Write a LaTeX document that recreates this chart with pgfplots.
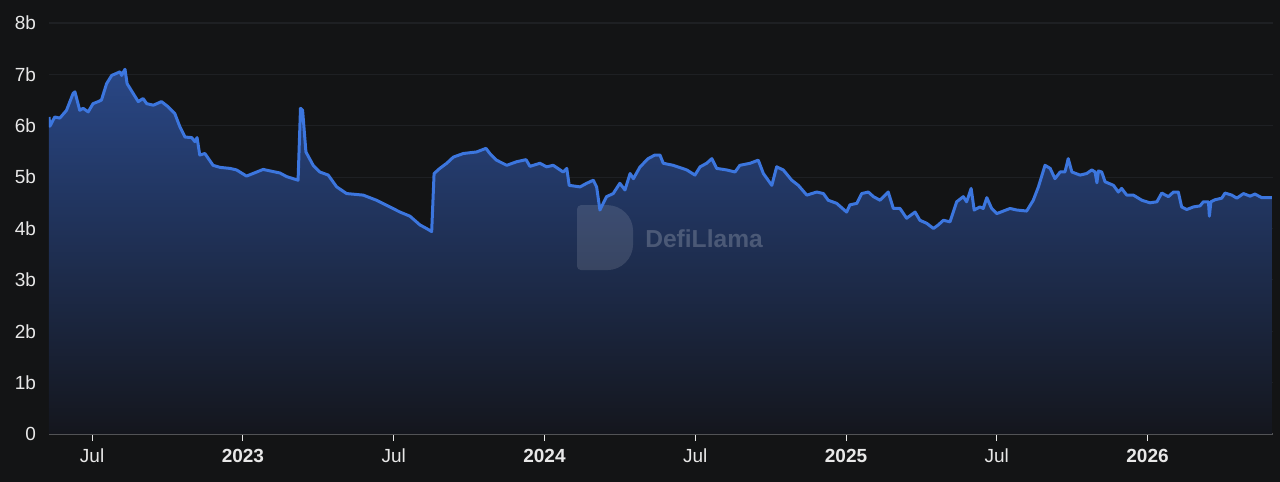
\documentclass[border=0pt]{standalone}
\usepackage{pgfplots}
\pgfplotsset{compat=1.18}
\usepackage{pgfplotstable}
\usepackage{fontspec}
\setmainfont{Liberation Sans}

\definecolor{bg}{RGB}{19,20,21}
\definecolor{gridc}{RGB}{30,32,35}
\definecolor{llblue}{RGB}{60,118,222}
\definecolor{filltop}{RGB}{41,71,134}
\definecolor{fillbot}{RGB}{20,22,29}
\definecolor{axisc}{RGB}{82,83,86}
\definecolor{labelc}{RGB}{232,232,232}

% TVL in billions, x = fractional year
\pgfplotstableread{
t v
2022.357 6.17
2022.360 5.99
2022.376 6.17
2022.393 6.15
2022.415 6.30
2022.437 6.63
2022.443 6.66
2022.459 6.30
2022.470 6.34
2022.487 6.27
2022.503 6.43
2022.520 6.47
2022.531 6.50
2022.548 6.82
2022.565 6.98
2022.581 7.02
2022.592 7.05
2022.598 6.98
2022.609 7.10
2022.616 6.82
2022.636 6.63
2022.653 6.47
2022.669 6.53
2022.681 6.43
2022.703 6.40
2022.730 6.47
2022.752 6.37
2022.774 6.24
2022.791 5.98
2022.808 5.78
2022.830 5.77
2022.841 5.69
2022.848 5.77
2022.857 5.43
2022.874 5.46
2022.901 5.23
2022.924 5.19
2022.957 5.17
2022.979 5.14
2023.012 5.02
2023.067 5.15
2023.123 5.08
2023.145 5.01
2023.183 4.94
2023.191 6.34
2023.198 6.30
2023.209 5.49
2023.233 5.23
2023.255 5.10
2023.283 5.04
2023.311 4.81
2023.344 4.68
2023.399 4.65
2023.443 4.55
2023.521 4.32
2023.554 4.24
2023.587 4.07
2023.609 4.00
2023.626 3.94
2023.634 5.07
2023.653 5.17
2023.676 5.27
2023.698 5.39
2023.731 5.46
2023.775 5.49
2023.806 5.56
2023.819 5.46
2023.841 5.33
2023.875 5.23
2023.908 5.30
2023.939 5.34
2023.952 5.21
2023.985 5.27
2024.007 5.20
2024.029 5.23
2024.062 5.10
2024.074 5.17
2024.082 4.84
2024.118 4.81
2024.140 4.88
2024.162 4.94
2024.173 4.81
2024.184 4.36
2024.206 4.62
2024.228 4.68
2024.250 4.88
2024.267 4.75
2024.284 5.07
2024.295 4.97
2024.317 5.20
2024.344 5.36
2024.366 5.43
2024.383 5.43
2024.394 5.27
2024.427 5.23
2024.472 5.14
2024.499 5.04
2024.516 5.20
2024.538 5.27
2024.555 5.36
2024.571 5.17
2024.604 5.14
2024.632 5.10
2024.648 5.23
2024.682 5.27
2024.709 5.33
2024.726 5.07
2024.754 4.84
2024.770 5.20
2024.792 5.14
2024.820 4.94
2024.842 4.84
2024.870 4.65
2024.903 4.71
2024.925 4.68
2024.941 4.55
2024.969 4.49
2025.002 4.32
2025.013 4.46
2025.036 4.49
2025.052 4.68
2025.074 4.71
2025.091 4.62
2025.113 4.55
2025.140 4.71
2025.157 4.39
2025.179 4.39
2025.201 4.20
2025.229 4.32
2025.245 4.16
2025.268 4.10
2025.290 4.00
2025.306 4.07
2025.323 4.16
2025.345 4.13
2025.367 4.52
2025.389 4.62
2025.400 4.52
2025.415 4.78
2025.425 4.36
2025.444 4.42
2025.455 4.39
2025.467 4.60
2025.483 4.39
2025.500 4.29
2025.522 4.34
2025.544 4.39
2025.566 4.36
2025.599 4.34
2025.621 4.55
2025.638 4.81
2025.660 5.23
2025.677 5.17
2025.693 4.97
2025.710 5.10
2025.726 5.10
2025.737 5.36
2025.749 5.10
2025.776 5.04
2025.798 5.07
2025.815 5.14
2025.826 5.10
2025.832 4.89
2025.837 5.12
2025.848 5.10
2025.859 4.91
2025.887 4.84
2025.903 4.71
2025.914 4.78
2025.931 4.65
2025.953 4.65
2025.981 4.55
2026.008 4.50
2026.031 4.52
2026.047 4.69
2026.069 4.62
2026.086 4.71
2026.102 4.71
2026.113 4.42
2026.130 4.37
2026.152 4.42
2026.174 4.44
2026.185 4.52
2026.202 4.52
2026.205 4.24
2026.210 4.52
2026.224 4.56
2026.246 4.59
2026.257 4.69
2026.279 4.65
2026.296 4.59
2026.318 4.68
2026.340 4.63
2026.356 4.67
2026.379 4.60
2026.412 4.60
}\tvl

\begin{document}
\begin{tikzpicture}
\fill[bg] (-24.5bp,-24bp) rectangle (615.5bp,217bp);
\begin{axis}[
  at={(0,0)}, anchor=south west,
  scale only axis, width=612bp, height=205.5bp,
  xmin=2022.357, xmax=2026.416,
  ymin=0, ymax=8,
  axis x line*=bottom, axis y line*=left,
  x axis line style={draw=axisc, line width=0.9bp, -},
  y axis line style={draw=none},
  ytick={0,1,...,8},
  yticklabels={0,1b,2b,3b,4b,5b,6b,7b,8b},
  xtick={2022.5,2023,2023.5,2024,2024.5,2025,2025.5,2026},
  xticklabels={Jul,\textbf{2023},Jul,\textbf{2024},Jul,\textbf{2025},Jul,\textbf{2026}},
  ymajorgrids, grid style={draw=gridc, line width=0.6bp},
  tick align=outside, major tick length=3.5bp,
  xtick style={draw=labelc, line width=0.5bp},
  ytick style={draw=none},
  ticklabel style={text=labelc, font=\fontsize{9.5bp}{11bp}\selectfont},
  yticklabel style={xshift=0.5bp},
  xticklabel style={yshift=-0.5bp},
]
\addplot[draw=none, top color=filltop, bottom color=fillbot] table[x=t, y=v] {\tvl} \closedcycle;
% watermark
\fill[white, opacity=0.12, rounded corners=2bp]
  (axis cs:2024.108,3.19) -- (axis cs:2024.108,4.455) -- (axis cs:2024.200,4.455)
  [rounded corners=13bp] -- (axis cs:2024.294,4.455) -- (axis cs:2024.294,3.19)
  [rounded corners=2bp] -- cycle;
\node[anchor=west, text=white, opacity=0.2, inner sep=0pt,
  font=\bfseries\fontsize{12.3bp}{14bp}\selectfont] at (axis cs:2024.333,3.81) {DefiLlama};
\addplot[draw=llblue, line width=1.5bp, line join=round] table[x=t, y=v] {\tvl};
\end{axis}
\pgfresetboundingbox
\path (-24.5bp,-24bp) rectangle (615.5bp,217bp);
\end{tikzpicture}
\end{document}
